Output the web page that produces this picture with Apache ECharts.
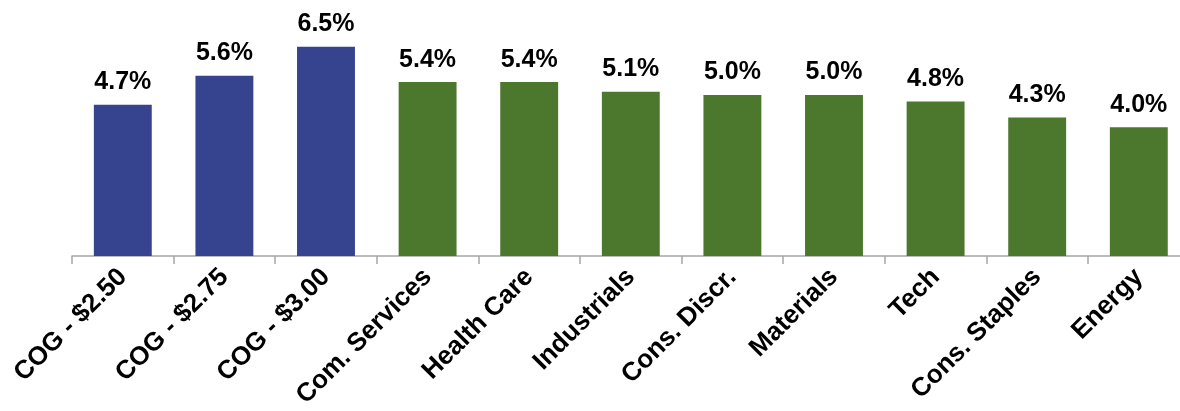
<!DOCTYPE html>
<html>
<head>
<meta charset="utf-8">
<script src="https://cdn.jsdelivr.net/npm/echarts@6/dist/echarts.min.js"></script>
<style>
  html, body { margin: 0; padding: 0; background: #fff; overflow: hidden; }
  /* the plot runs slightly past the right edge of the page */
  #chart { width: 1190px; height: 411px; }
</style>
</head>
<body>
<div id="chart"></div>
<script>
// Sector categories and their yields (%)
const categories = ['COG - $2.50', 'COG - $2.75', 'COG - $3.00', 'Com. Services', 'Health Care',
  'Industrials', 'Cons. Discr.', 'Materials', 'Tech', 'Cons. Staples', 'Energy'];
const values = [4.7, 5.6, 6.5, 5.4, 5.4, 5.1, 5.0, 5.0, 4.8, 4.3, 4.0];
// First three bars are the COG scenarios, the rest are sectors
const groups = ['cog', 'cog', 'cog', 'sector', 'sector', 'sector', 'sector', 'sector', 'sector', 'sector', 'sector'];

const colors = { cog: '#36438F', sector: '#4B782D' };
const font = '"Liberation Sans", Arial, sans-serif';

const chart = echarts.init(document.getElementById('chart'));
chart.setOption({
  animation: false,
  grid: { left: 72, top: 30.6, right: 0.4, bottom: 151.5, containLabel: false },
  xAxis: {
    type: 'category',
    data: categories,
    axisLine: { lineStyle: { color: '#A6A6A6', width: 1.5 } },
    axisTick: { show: true, length: 8, alignWithLabel: false, lineStyle: { color: '#A6A6A6', width: 1.5 } },
    axisLabel: {
      interval: 0,
      rotate: 45,
      margin: 17,
      color: '#000',
      fontFamily: font,
      fontWeight: 'bold',
      fontSize: 26
    }
  },
  yAxis: {
    type: 'value',
    min: 0,
    max: 7,
    show: false,
    splitLine: { show: false }
  },
  series: [{
    type: 'bar',
    barWidth: '57%',
    data: values.map((v, i) => ({ value: v, itemStyle: { color: colors[groups[i]] } })),
    label: {
      show: true,
      position: 'top',
      distance: 10,
      color: '#000',
      fontFamily: font,
      fontWeight: 'bold',
      fontSize: 25,
      formatter: p => p.value.toFixed(1) + '%'
    }
  }]
});
</script>
</body>
</html>
